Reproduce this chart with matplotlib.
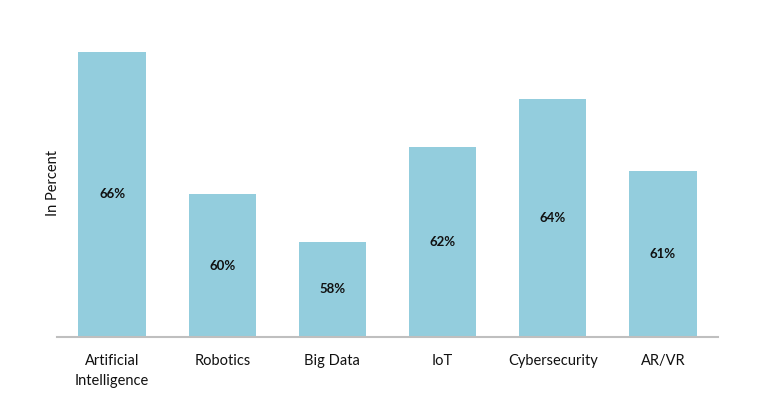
import matplotlib.pyplot as plt

# donnees du graphique
categories = ["Artificial\nIntelligence", "Robotics", "Big Data", "IoT", "Cybersecurity", "AR/VR"]
values = [66, 60, 58, 62, 64, 61]
labels = ["66%", "60%", "58%", "62%", "64%", "61%"]

plt.rcParams['font.family'] = ['Lato', 'DejaVu Sans']

fig = plt.figure(figsize=(7.59, 4.0), dpi=100)
ax = fig.add_axes([57 / 759, 63 / 400, 661 / 759, 309 / 400])

base = 54
x = range(len(categories))
bars = ax.bar(x, [v - base for v in values], bottom=base, width=0.61, color="#93CDDD")

# etiquettes au milieu des barres
for b, lab in zip(bars, labels):
    ax.text(b.get_x() + b.get_width() / 2, b.get_y() + b.get_height() / 2, lab,
            ha="center", va="center", fontsize=9.5, fontweight="bold", color="#111111")

ax.set_xlim(-0.5, len(categories) - 0.5)
ax.set_ylim(base, 67)
ax.set_xticks(list(x))
ax.set_xticklabels(categories, fontsize=10.5, color="#111111", linespacing=1.6)
ax.tick_params(axis="x", length=0, pad=12)
ax.set_yticks([])
for s in ["top", "right", "left"]:
    ax.spines[s].set_visible(False)
ax.spines["bottom"].set_color("#BFBFBF")
ax.spines["bottom"].set_linewidth(1.5)
ax.set_ylabel("In Percent", fontsize=10.5, color="#111111", labelpad=-2)

fig.savefig("out.png", dpi=100)
